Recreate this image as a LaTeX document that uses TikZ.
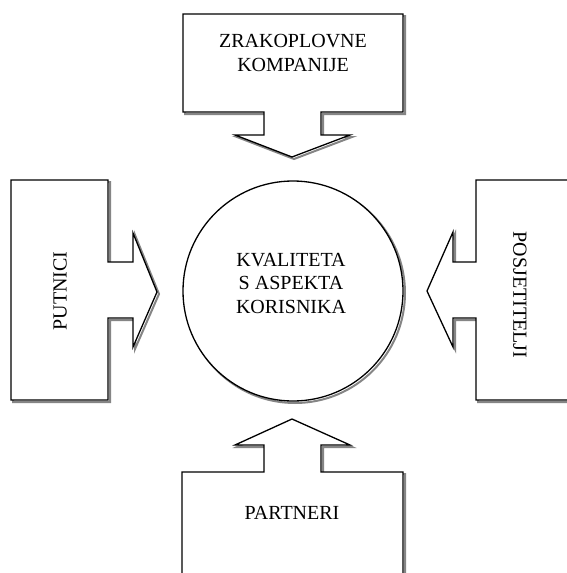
\documentclass[tikz,border=0pt]{standalone}
\usepackage{fontspec}
\setmainfont{Liberation Serif}
\begin{document}
\begin{tikzpicture}[x=1pt,y=-1pt,
  outl/.style={draw=black,line width=1.3pt,fill=white,line join=miter},
  shad/.style={draw=black!60,line width=2pt,opacity=0.8},
  lbl/.style={font=\fontsize{20}{23.5}\selectfont,align=center,inner sep=0pt}]
\useasboundingbox (0,0) rectangle (567,573);
\clip (0,0) rectangle (567,573);
% shadows
\begin{scope}[shift={(2,2)}]
\draw[shad] (183,14) -- (403,14) -- (403,112) -- (321,112) -- (321,135) -- (350,135) -- (292,157) -- (235,135) -- (264,135) -- (264,112) -- (183,112) -- cycle;
\draw[shad] (11,180) -- (108,180) -- (108,262) -- (133,262) -- (133,233) -- (157,292) -- (133,347) -- (133,318) -- (108,318) -- (108,400) -- (11,400) -- cycle;
\draw[shad] (600,180) -- (476,180) -- (476,262) -- (453,262) -- (453,232) -- (427,291) -- (453,347) -- (453,318) -- (476,318) -- (476,400) -- (600,400) -- cycle;
\draw[shad] (292,419) -- (350,445) -- (321,445) -- (321,472) -- (403,472) -- (403,600) -- (182,600) -- (182,472) -- (264,472) -- (264,445) -- (235,445) -- cycle;
\draw[shad] (293,291) circle (110);
\end{scope}
% shapes
\draw[outl] (183,14) -- (403,14) -- (403,112) -- (321,112) -- (321,135) -- (350,135) -- (292,157) -- (235,135) -- (264,135) -- (264,112) -- (183,112) -- cycle;
\draw[outl] (11,180) -- (108,180) -- (108,262) -- (133,262) -- (133,233) -- (157,292) -- (133,347) -- (133,318) -- (108,318) -- (108,400) -- (11,400) -- cycle;
\draw[outl] (600,180) -- (476,180) -- (476,262) -- (453,262) -- (453,232) -- (427,291) -- (453,347) -- (453,318) -- (476,318) -- (476,400) -- (600,400) -- cycle;
\draw[outl] (292,419) -- (350,445) -- (321,445) -- (321,472) -- (403,472) -- (403,600) -- (182,600) -- (182,472) -- (264,472) -- (264,445) -- (235,445) -- cycle;
\node[outl,circle,minimum size=220pt,inner sep=0pt] (c) at (293,291) {};
% labels
\node[lbl] (top) at (293,53) {ZRAKOPLOVNE\\KOMPANIJE};
\node[lbl] (ctr) at (291,283) {KVALITETA\\S ASPEKTA\\KORISNIKA};
\node[lbl,rotate=90] (left) at (60,291) {PUTNICI};
\node[lbl,rotate=-90] (right) at (520,295) {POSJETITELJI};
\node[lbl] (bot) at (292,513) {PARTNERI};
\end{tikzpicture}
\end{document}
